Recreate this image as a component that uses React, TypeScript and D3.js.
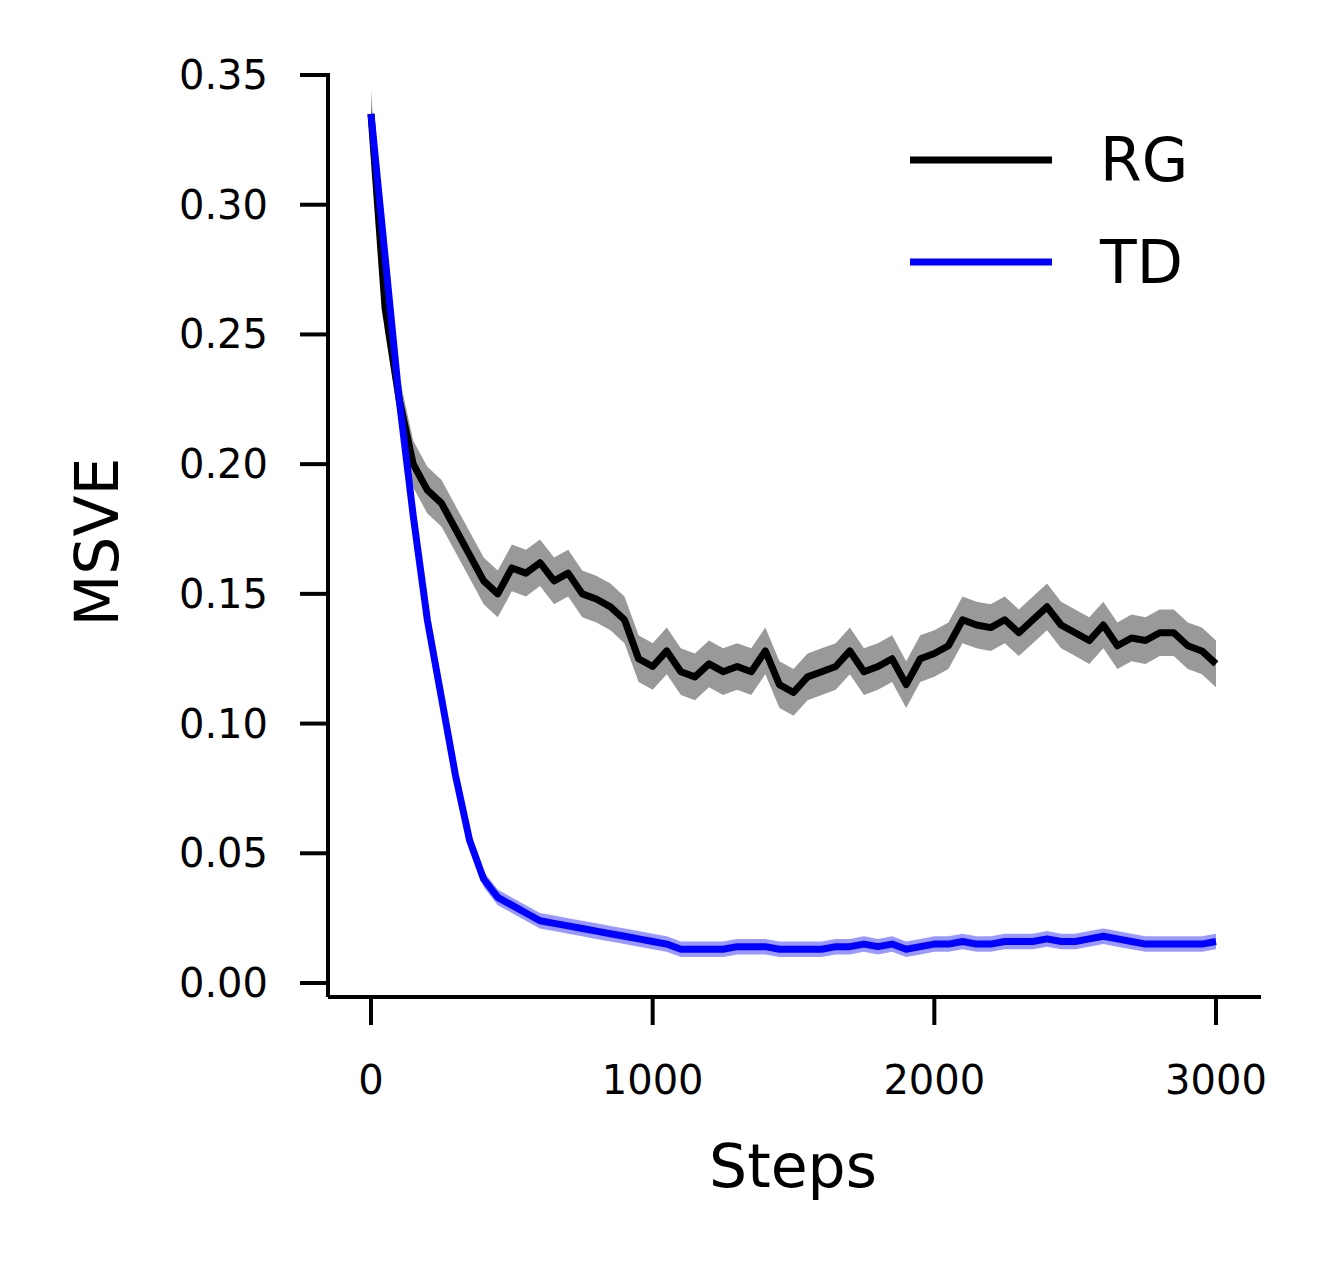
import React from 'react';
import * as d3 from 'd3';

const steps = d3.range(0, 3001, 50);
const rgValues = [0.335, 0.26, 0.225, 0.2, 0.19, 0.185, 0.175, 0.165, 0.155, 0.15, 0.16, 0.158, 0.162, 0.155, 0.158, 0.15, 0.148, 0.145, 0.14, 0.125, 0.122, 0.128, 0.12, 0.118, 0.123, 0.12, 0.122, 0.12, 0.128, 0.115, 0.112, 0.118, 0.12, 0.122, 0.128, 0.12, 0.122, 0.125, 0.115, 0.125, 0.127, 0.13, 0.14, 0.138, 0.137, 0.14, 0.135, 0.14, 0.145, 0.138, 0.135, 0.132, 0.138, 0.13, 0.133, 0.132, 0.135, 0.135, 0.13, 0.128, 0.123];
const tdValues = [0.335, 0.28, 0.225, 0.18, 0.14, 0.11, 0.08, 0.055, 0.04, 0.033, 0.03, 0.027, 0.024, 0.023, 0.022, 0.021, 0.02, 0.019, 0.018, 0.017, 0.016, 0.015, 0.013, 0.013, 0.013, 0.013, 0.014, 0.014, 0.014, 0.013, 0.013, 0.013, 0.013, 0.014, 0.014, 0.015, 0.014, 0.015, 0.013, 0.014, 0.015, 0.015, 0.016, 0.015, 0.015, 0.016, 0.016, 0.016, 0.017, 0.016, 0.016, 0.017, 0.018, 0.017, 0.016, 0.015, 0.015, 0.015, 0.015, 0.015, 0.016];
const rgErr = 0.009;
const tdErr = 0.003;
const xTicks = [0, 1000, 2000, 3000];
const yTicks = [0, 0.05, 0.1, 0.15, 0.2, 0.25, 0.3, 0.35];

const series = [
  { name: 'RG', values: rgValues, err: rgErr, color: '#000', band: 'rgba(0,0,0,0.4)' },
  { name: 'TD', values: tdValues, err: tdErr, color: '#0000ff', band: 'rgba(0,0,255,0.4)' },
];

export default function App() {
  const x = d3.scaleLinear().domain([0, 3000]).range([371, 1216]);
  const y = d3.scaleLinear().domain([0, 0.35]).range([983, 75]);
  const font = 'DejaVu Sans, sans-serif';

  return (
    <svg width={1340} height={1263} style={{ position: 'absolute', left: 0, top: 0 }} fontFamily={font}>
      <rect width={1340} height={1263} fill="#fff" />
      {series.map((s) => {
        const area = d3.area<number>()
          .x((_, i) => x(steps[i]))
          .y0((d) => y(d - s.err))
          .y1((d) => y(d + s.err));
        const line = d3.line<number>().x((_, i) => x(steps[i])).y((d) => y(d));
        return (
          <g key={s.name}>
            <path d={area(s.values) || ''} fill={s.band} />
            <path d={line(s.values) || ''} fill="none" stroke={s.color} strokeWidth={7} strokeLinejoin="round" />
          </g>
        );
      })}
      <line x1={328} x2={328} y1={73} y2={997} stroke="#000" strokeWidth={4} />
      <line x1={328} x2={1261} y1={997} y2={997} stroke="#000" strokeWidth={4} />
      {yTicks.map((t) => (
        <g key={t}>
          <line x1={300} x2={328} y1={y(t)} y2={y(t)} stroke="#000" strokeWidth={4} />
          <text x={268} y={y(t)} dy="0.35em" textAnchor="end" fontSize={40}>{t.toFixed(2)}</text>
        </g>
      ))}
      {xTicks.map((t) => (
        <g key={t}>
          <line x1={x(t)} x2={x(t)} y1={997} y2={1025} stroke="#000" strokeWidth={4} />
          <text x={x(t)} y={1094} textAnchor="middle" fontSize={40}>{t}</text>
        </g>
      ))}
      <text x={793} y={1187} textAnchor="middle" fontSize={60}>Steps</text>
      <text transform="translate(118,542) rotate(-90)" textAnchor="middle" fontSize={60}>MSVE</text>
      {series.map((s, i) => (
        <g key={s.name}>
          <line x1={910} x2={1052} y1={160 + i * 102} y2={160 + i * 102} stroke={s.color} strokeWidth={7} />
          <text x={1100} y={160 + i * 102} dy="0.35em" fontSize={60}>{s.name}</text>
        </g>
      ))}
    </svg>
  );
}
